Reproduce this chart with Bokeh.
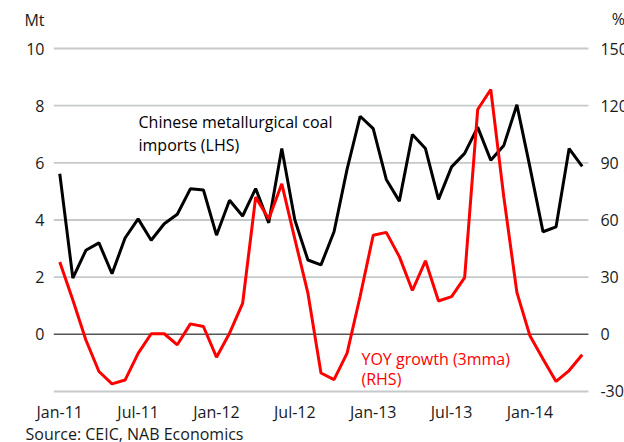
from bokeh.plotting import figure
from bokeh.models import Range1d, FixedTicker, Label, Title
from bokeh.embed import file_html
from bokeh.resources import INLINE
from bokeh.core.properties import value

# ---- data ----
month_names = ["Jan", "Feb", "Mar", "Apr", "May", "Jun",
               "Jul", "Aug", "Sep", "Oct", "Nov", "Dec"]
years = ["11", "12", "13", "14"]
months = [f"{m}-{y}" for y in years for m in month_names][:41]  # Jan-11 .. May-14

coal_imports_mt = [
    5.62, 1.97, 2.94, 3.20, 2.12, 3.37, 4.04, 3.29, 3.87, 4.20, 5.09, 5.05,
    3.47, 4.69, 4.14, 5.10, 3.90, 6.50, 4.00, 2.60, 2.43, 3.59, 5.78, 7.63,
    7.20, 5.42, 4.66, 6.99, 6.50, 4.72, 5.86, 6.33, 7.25, 6.09, 6.61, 8.03,
    5.85, 3.59, 3.76, 6.50, 5.88,
]
yoy_growth_pct = [
    38.0, 18.0, -3.0, -19.5, -26.0, -24.0, -10.0, 0.3, 0.3, -5.5, 5.5, 4.1,
    -12.0, 0.6, 16.2, 72.0, 60.5, 79.0, 50.0, 21.6, -20.3, -23.8, -9.9, 20.0,
    52.0, 53.5, 40.8, 23.0, 38.6, 17.5, 19.8, 29.8, 118.0, 128.5, 72.0, 22.0,
    -0.8, -13.0, -24.7, -19.0, -10.7,
]
x_tick_labels = ["Jan-11", "Jul-11", "Jan-12", "Jul-12", "Jan-13", "Jul-13", "Jan-14"]
left_ticks = [0, 2, 4, 6, 8, 10]
right_ticks = [-30, 0, 30, 60, 90, 120, 150]
grid_levels = [-2, 2, 4, 6, 8, 10]
zero_level = [0]
left_unit, right_unit = "Mt", "%"
source_note = "Source: CEIC, NAB Economics"

FONT = "Open Sans"
FS = "16px"
TXT = "#1a1a1a"

idx = list(range(len(months)))
x_start = -0.48
x_grid_end = idx[-1] + 0.48
# frame spans a little beyond the gridded -2..10 band so edge labels are not clipped
y_lo, y_hi = -2.595, 11.68
ratio = 15                      # right axis (%) = 15 x left axis (Mt)

p = figure(width=624, height=442,
           x_range=Range1d(x_start, 43.24), y_range=Range1d(y_lo, y_hi),
           output_backend="svg", toolbar_location=None,
           min_border_left=53, min_border_right=0,
           min_border_top=0, min_border_bottom=34)
p.extra_y_ranges = {"right": Range1d(y_lo * ratio, y_hi * ratio)}
p.outline_line_color = None
p.grid.visible = False
p.background_fill_color = "white"
p.border_fill_color = "white"

# axes
for ax in (p.xaxis[0], p.yaxis[0]):
    ax.axis_line_color = None
    ax.major_tick_line_color = None
    ax.minor_tick_line_color = None
    ax.major_tick_out = 0
    ax.major_tick_in = 0
    ax.major_label_text_font = FONT
    ax.major_label_text_font_size = FS
    ax.major_label_text_color = TXT

unit_pos = 11
p.yaxis[0].ticker = FixedTicker(ticks=left_ticks + [unit_pos])
p.yaxis[0].major_label_overrides = {unit_pos: left_unit}
p.yaxis[0].major_label_standoff = 9
p.xaxis[0].ticker = FixedTicker(ticks=[months.index(l) for l in x_tick_labels])
p.xaxis[0].major_label_overrides = {months.index(l): l for l in x_tick_labels}
p.xaxis[0].major_label_standoff = -8

# source note below the axis
p.add_layout(Title(text=source_note, align="left", offset=-28, standoff=-9,
                   text_font=FONT, text_font_size=FS, text_font_style="normal",
                   text_color=TXT), "below")

# gridlines
p.segment(x0=[x_start] * len(grid_levels), x1=[x_grid_end] * len(grid_levels),
          y0=grid_levels, y1=grid_levels, line_color="#c6c9cc", line_width=1.8)
p.segment(x0=[x_start], x1=[x_grid_end], y0=zero_level, y1=zero_level,
          line_color="#555555", line_width=1.5)

# series
p.line(idx, coal_imports_mt, line_color="black", line_width=3)
p.line(idx, yoy_growth_pct, line_color="#ff0000", line_width=3, y_range_name="right")

# right-hand tick labels
p.text(x=[41.4] * len(right_ticks), y=right_ticks, text=[str(t) for t in right_ticks],
       y_range_name="right", text_font=value(FONT), text_font_size=FS,
       text_align="left", text_baseline="middle", text_color=TXT)
p.text(x=[42.27], y=[11.03], text=[right_unit], text_font=value(FONT),
       text_font_size=FS, text_align="left", text_baseline="middle", text_color=TXT)

# annotations
def lab(x, y, t, color=TXT, align="left"):
    p.add_layout(Label(x=x, y=y, text=t, text_font=FONT, text_font_size=FS,
                       text_color=color, text_align=align, text_baseline="middle"))

lab(6.03, 7.43, "Chinese metallurgical coal", color="black")
lab(6.03, 6.64, "imports (LHS)", color="black")
lab(23.1, -0.85, "YOY growth (3mma)", color="#ff0000")
lab(23.1, -1.58, "(RHS)", color="#ff0000")

open("out.html", "w").write(file_html(p, INLINE))
